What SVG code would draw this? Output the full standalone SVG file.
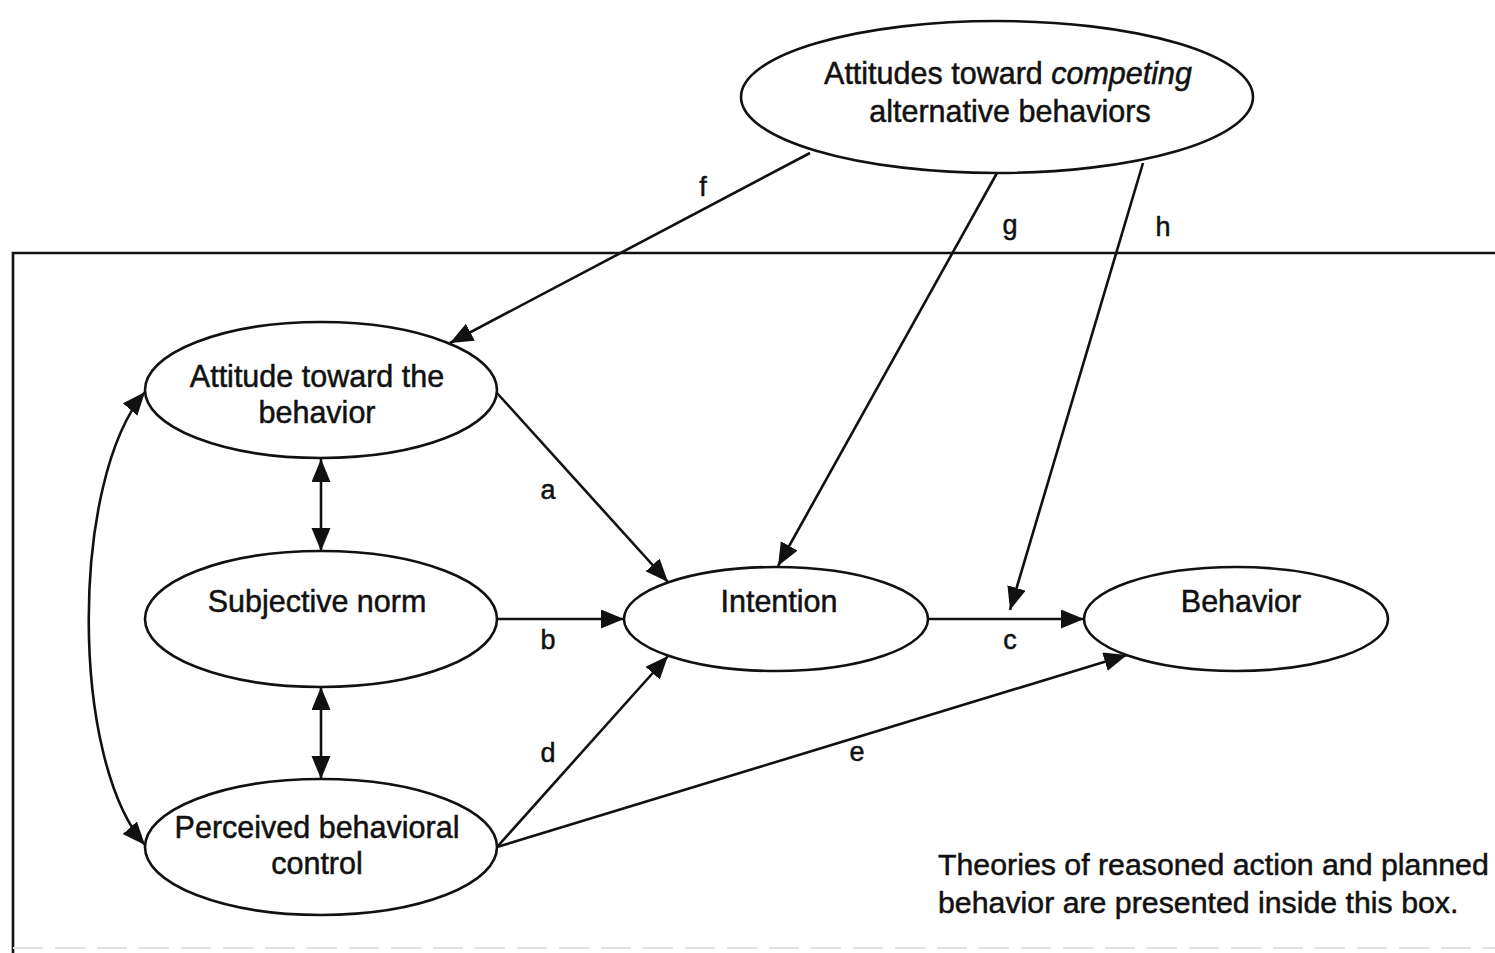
<svg xmlns="http://www.w3.org/2000/svg" width="1495" height="953" viewBox="0 0 1495 953">
<style>
  .node ellipse { fill: #fff; stroke: #111; stroke-width: 2.6; }
  text { font-family: "Liberation Sans", Arial, sans-serif; fill: #111; stroke: #111; stroke-width: 0.5; }
  .nt { font-size: 30.5px; text-anchor: middle; }
  .lbl { font-size: 27px; text-anchor: middle; }
  .note { font-size: 30.3px; }
  .edge { fill: none; stroke: #111; stroke-width: 2.6; }
  .frame { fill: none; stroke: #111; stroke-width: 2.6; }
</style>
<defs>
  <marker id="arr" markerUnits="userSpaceOnUse" markerWidth="26" markerHeight="22" refX="23" refY="9.5" orient="auto-start-reverse">
    <path d="M0,0 L23,9.5 L0,19 z" fill="#111"/>
  </marker>
</defs>
<rect width="1495" height="953" fill="#fff"/>
<g id="frame">
  <path class="frame" d="M1495,253 H13 V953"/>
  <line x1="13" y1="948" x2="1495" y2="948" stroke="#e2e2e2" stroke-width="2" stroke-dasharray="30,12"/>
</g>
<g id="connectors">
  <line class="edge" x1="810" y1="153" x2="450" y2="343" marker-end="url(#arr)"/>
  <line class="edge" x1="997" y1="173" x2="778" y2="566" marker-end="url(#arr)"/>
  <line class="edge" x1="1143" y1="163" x2="1010" y2="610" marker-end="url(#arr)"/>
  <line class="edge" x1="497" y1="393" x2="668" y2="582" marker-end="url(#arr)"/>
  <line class="edge" x1="497" y1="619" x2="624" y2="619" marker-end="url(#arr)"/>
  <line class="edge" x1="497" y1="847" x2="668" y2="656" marker-end="url(#arr)"/>
  <line class="edge" x1="928" y1="619" x2="1084" y2="619" marker-end="url(#arr)"/>
  <line class="edge" x1="497" y1="847" x2="1127" y2="655" marker-end="url(#arr)"/>
  <line class="edge" x1="321" y1="459" x2="321" y2="551" marker-start="url(#arr)" marker-end="url(#arr)"/>
  <line class="edge" x1="321" y1="687" x2="321" y2="779" marker-start="url(#arr)" marker-end="url(#arr)"/>
  <path class="edge" d="M145,392 C70,480 70,760 145,845" marker-start="url(#arr)" marker-end="url(#arr)"/>
  <text class="lbl" x="703" y="196">f</text>
  <text class="lbl" x="1010" y="234">g</text>
  <text class="lbl" x="1163" y="236">h</text>
  <text class="lbl" x="548" y="499">a</text>
  <text class="lbl" x="548" y="649">b</text>
  <text class="lbl" x="1010" y="649">c</text>
  <text class="lbl" x="548" y="762">d</text>
  <text class="lbl" x="857" y="761">e</text>
</g>
<g id="competing" class="node">
  <ellipse cx="997" cy="97" rx="256" ry="76"/>
  <text class="nt" x="1008" y="84">Attitudes toward <tspan font-style="italic">competing</tspan></text>
  <text class="nt" x="1010" y="122">alternative behaviors</text>
</g>
<g id="attitude" class="node">
  <ellipse cx="321" cy="390" rx="176" ry="68"/>
  <text class="nt" x="317" y="387">Attitude toward the</text>
  <text class="nt" x="317" y="423">behavior</text>
</g>
<g id="norm" class="node">
  <ellipse cx="321" cy="619" rx="176" ry="68"/>
  <text class="nt" x="317" y="612">Subjective norm</text>
</g>
<g id="pbc" class="node">
  <ellipse cx="321" cy="847" rx="176" ry="68"/>
  <text class="nt" x="317" y="838">Perceived behavioral</text>
  <text class="nt" x="317" y="874">control</text>
</g>
<g id="intention" class="node">
  <ellipse cx="776" cy="619" rx="152" ry="52"/>
  <text class="nt" x="779" y="612">Intention</text>
</g>
<g id="behavior" class="node">
  <ellipse cx="1236" cy="619" rx="152" ry="52"/>
  <text class="nt" x="1241" y="612">Behavior</text>
</g>
<g id="note">
  <text class="note" x="938" y="875">Theories of reasoned action and planned</text>
  <text class="note" x="938" y="913">behavior are presented inside this box.</text>
</g>
</svg>
